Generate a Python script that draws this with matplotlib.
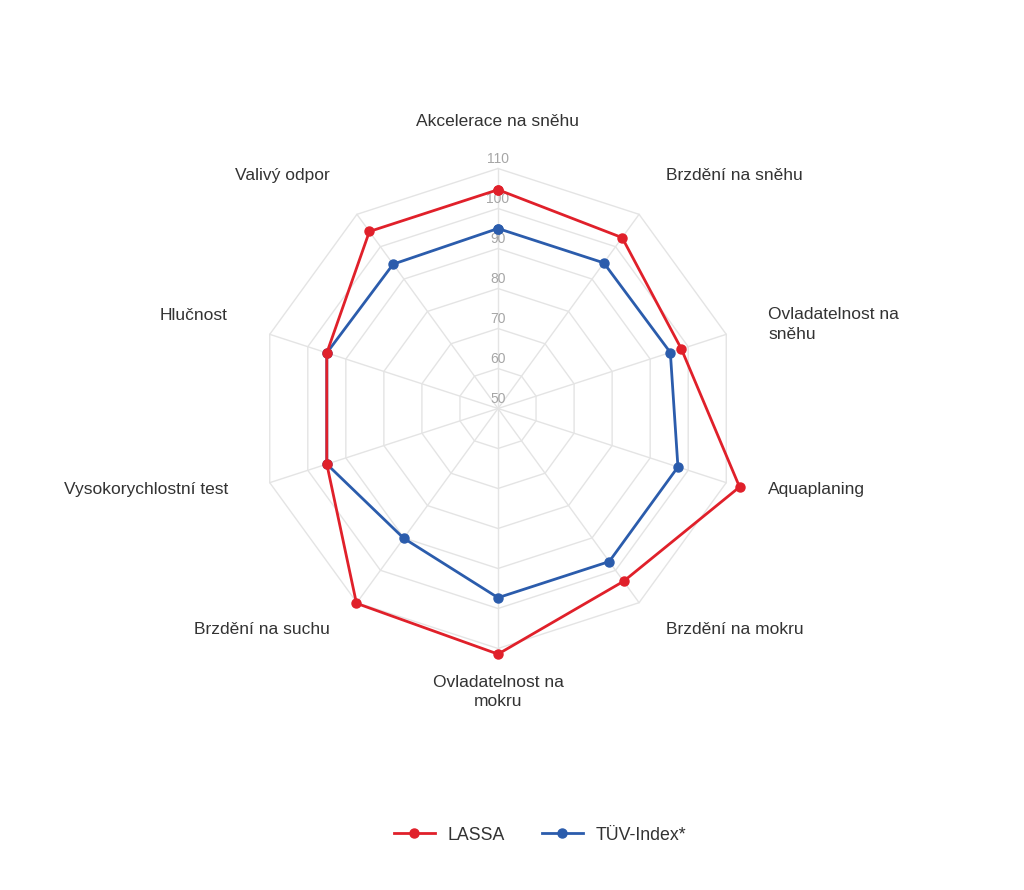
import numpy as np
import matplotlib
matplotlib.use("Agg")
import matplotlib.pyplot as plt
from matplotlib.lines import Line2D
from matplotlib.transforms import offset_copy

plt.rcParams['font.family'] = ['Liberation Sans', 'DejaVu Sans']

categories = ["Akcelerace na sněhu", "Brzdění na sněhu", "Ovladatelnost na\nsněhu",
              "Aquaplaning", "Brzdění na mokru", "Ovladatelnost na\nmokru",
              "Brzdění na suchu", "Vysokorychlostní test", "Hlučnost", "Valivý odpor"]
lassa = [104.7, 102.8, 98.2, 113.5, 103.4, 111.4, 110.2, 95.0, 95.0, 104.7]
tuv = [95.0, 95.0, 95.3, 97.3, 97.3, 97.3, 90.1, 95.0, 95.0, 94.6]
series_names = ["LASSA", "TÜV-Index*"]
ticks = [50, 60, 70, 80, 90, 100, 110]

RED = "#e0202a"
BLUE = "#2b5cac"
GRID = "#e4e4e4"
TXT = "#333333"

W, H = 1024, 890
fig = plt.figure(figsize=(W / 100, H / 100), dpi=100)
cx, cy = 498, 408.5
rmax_px = 288
ax = fig.add_axes([(cx - rmax_px) / W, (H - cy - rmax_px) / H,
                   2 * rmax_px / W, 2 * rmax_px / H], projection='polar')
ax.set_theta_zero_location('N')
ax.set_theta_direction(-1)
ax.set_ylim(50, 122)
ax.grid(False)
ax.set_xticks([])
ax.set_yticks([])
ax.spines['polar'].set_visible(False)
ax.patch.set_visible(False)

n = len(categories)
angles = np.linspace(0, 2 * np.pi, n, endpoint=False)
closed = np.concatenate([angles, angles[:1]])

# polygon grid
for t in ticks[1:]:
    ax.plot(closed, [t] * (n + 1), color=GRID, lw=1, zorder=1, clip_on=False)
for a in angles:
    ax.plot([a, a], [ticks[0], ticks[-1]], color=GRID, lw=1, zorder=1, clip_on=False)

# tick labels
for t in ticks:
    ax.text(0, t + 2.3, str(t), ha='center', va='center', fontsize=10,
            color='#a6a6a6', zorder=2)

# series
ax.plot(closed, tuv + tuv[:1], color=BLUE, lw=2, marker='o', ms=6.5,
        zorder=4, clip_on=False)
ax.plot(closed, lassa + lassa[:1], color=RED, lw=2, marker='o', ms=6.5,
        zorder=5, clip_on=False)

# category labels
for a, lab in zip(angles, categories):
    s = np.sin(a)
    if abs(s) < 0.1:
        ha, dx = 'center', 0
    elif s > 0:
        ha, dx = 'left', 3
    else:
        ha, dx = 'right', -3
    dy = -2.5 if '\n' in lab else 6
    tr = offset_copy(ax.transData, fig=fig, x=dx, y=dy, units='dots')
    ax.text(a, 120.25, lab, ha=ha, va='center', fontsize=12.5, color=TXT,
            linespacing=1.4, clip_on=False, transform=tr)

handles = [Line2D([0], [0], color=RED, lw=2, marker='o', ms=6.5),
           Line2D([0], [0], color=BLUE, lw=2, marker='o', ms=6.5)]
fig.legend(handles, series_names, loc='center',
           bbox_to_anchor=(0.5 + 28 / W, 1 - 835 / H),
           ncol=2, frameon=False, fontsize=12.8, handlelength=2.3,
           handletextpad=0.7, columnspacing=2.1, labelcolor=TXT)

fig.savefig("out.png", dpi=100, facecolor='white')
